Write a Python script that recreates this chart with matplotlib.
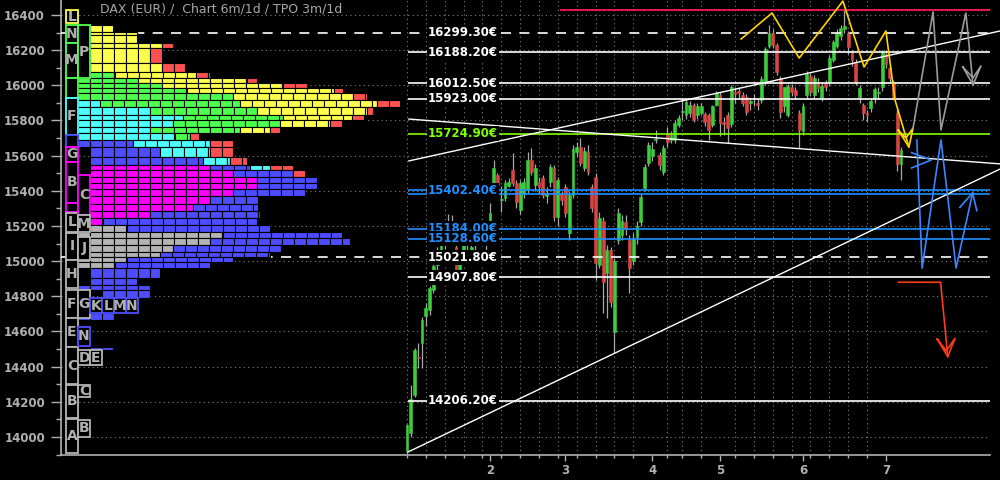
import numpy as np
import matplotlib.pyplot as plt
from matplotlib.ticker import FixedLocator, NullFormatter

# daily candles, trading-day index 0 (2 Jan) .. 131 (7 Jul)
opens = [13920, 14025, 14239, 14455, 14534, 14688, 14722, 14836, 14980, 15040,
         15090, 15140, 15200, 15080, 14940, 15060, 15110, 15060, 15100, 15120,
         15160, 15090,
         15140, 15444, 15490, 15350, 15359, 15430, 15518, 15444, 15290, 15380,
         15404, 15575, 15433, 15450, 15473, 15370, 15450, 15530, 15250, 15380,
         15421, 15160, 15376, 15620, 15649, 15530, 15620, 15421, 15478, 14980,
         15230, 14933, 15063, 14597, 15120, 15150, 15220, 15120, 15000, 15140,
         15223, 15416, 15558,
         15600, 15690, 15603, 15507, 15729, 15690, 15689, 15774, 15848, 15831,
         15840, 15888, 15830, 15843, 15837, 15831, 15774, 15888,
         15945, 15790, 15831, 15780, 15960, 15965, 15945, 15934, 15900, 15920,
         15900, 15916, 16013, 16224, 16298, 16229, 16041, 15880, 15831, 15990,
         15975, 15843,
         15740, 15945, 16052, 15945, 16013, 15930, 16013, 16019, 16144, 16224,
         16280, 16320, 16298, 16184, 16133, 15934, 15888, 15840, 15871, 15928,
         15955, 15990,
         16178, 16098, 16013, 15843, 15553]
highs = [14075, 14296, 14506, 14535, 14682, 14760, 14860, 14990, 15080, 15100,
         15150, 15270, 15260, 15110, 15060, 15140, 15150, 15100, 15160, 15180,
         15190, 15150,
         15330, 15575, 15500, 15430, 15460, 15470, 15615, 15460, 15460, 15470,
         15620, 15643, 15550, 15480, 15490, 15420, 15555, 15545, 15480, 15400,
         15440, 15400, 15660, 15680, 15700, 15650, 15660, 15440, 15500, 15280,
         15250, 15090, 15080, 15020, 15300, 15260, 15260, 15150, 15160, 15230,
         15380, 15550, 15680,
         15680, 15746, 15620, 15660, 15760, 15740, 15800, 15830, 15916, 15920,
         15910, 15900, 15900, 15900, 15850, 15840, 15890, 15970,
         15960, 15820, 15850, 16000, 15990, 15990, 15960, 15950, 15930, 15950,
         15930, 16050, 16215, 16343, 16320, 16240, 16050, 15990, 16010, 16010,
         15990, 15860,
         15900, 16080, 16070, 16060, 16040, 16020, 16030, 16170, 16260, 16320,
         16340, 16428, 16310, 16200, 16150, 16000, 15900, 15860, 15930, 15990,
         15990, 16200,
         16200, 16110, 16030, 15870, 15650]
lows = [13905, 14000, 14228, 14392, 14392, 14630, 14694, 14820, 14950, 14990,
        15070, 15110, 15140, 14900, 14930, 15040, 15050, 14990, 15060, 15090,
        15100, 15050,
        15100, 15421, 15400, 15280, 15340, 15420, 15430, 15300, 15270, 15360,
        15390, 15490, 15400, 15380, 15360, 15330, 15420, 15230, 15200, 15320,
        15250, 15120, 15360, 15600, 15540, 15510, 15490, 15280, 14890, 14960,
        14705, 14677, 14740, 14478, 15100, 15120, 15150, 14819, 14980, 15100,
        15200, 15400, 15540,
        15570, 15672, 15520, 15490, 15650, 15670, 15670, 15760, 15803, 15810,
        15820, 15790, 15810, 15830, 15770, 15689, 15760, 15880,
        15710, 15720, 15672, 15760, 15900, 15920, 15880, 15830, 15860, 15880,
        15860, 15900, 16000, 16210, 16210, 16060, 15814, 15850, 15820, 15940,
        15920, 15644,
        15720, 15930, 15940, 15930, 15960, 15910, 15970, 16000, 16130, 16210,
        16260, 16300, 16180, 16110, 16000, 15900, 15800, 15790, 15850, 15900,
        15920, 15970,
        16100, 16020, 15920, 15510, 15462]
closes = [14068, 14216, 14495, 14450, 14665, 14733, 14847, 14975, 15058, 15087,
          15134, 15187, 15181, 14920, 15033, 15103, 15094, 15081, 15132, 15150,
          15126, 15128,
          15274, 15530, 15433, 15352, 15444, 15450, 15444, 15336, 15444, 15450,
          15575, 15507, 15530, 15420, 15376, 15385, 15535, 15250, 15461, 15350,
          15274, 15376, 15638, 15649, 15558, 15625, 15507, 15302, 14990, 15245,
          14880, 15063, 14768, 15001, 15274, 15230, 15180, 14960, 15128, 15200,
          15365, 15535, 15660,
          15640, 15696, 15547, 15644, 15678, 15720, 15786, 15814, 15852, 15905,
          15890, 15803, 15880, 15882, 15791, 15746, 15882, 15956,
          15786, 15780, 15757, 15990, 15950, 15955, 15900, 15848, 15910, 15923,
          15890, 16036, 16207, 16298, 16229, 16076, 15848, 15990, 15996, 15960,
          15945, 15746,
          15882, 16064, 15960, 16041, 15985, 15996, 15990, 16155, 16246, 16298,
          16326, 16337, 16218, 16144, 16019, 15985, 15843, 15830, 15911, 15979,
          15958, 16190,
          16121, 16041, 15934, 15553, 15632]

month_idx = [22, 42, 65, 83, 105, 127]
month_lbl = ['2', '3', '4', '5', '6', '7']
monday_idx = [0, 5, 10, 15, 20, 25, 30, 35, 40, 45, 50, 55, 60, 65, 69, 73, 78,
              83, 87, 92, 97, 102, 107, 112, 117, 122, 127]

levels = [16299.3, 16188.2, 16012.5, 15923.0, 15724.9, 15402.4, 15184.0,
          15128.6, 15021.8, 14907.8, 14206.2]
level_kind = ['dash', 'white', 'white', 'white', 'green', 'blue', 'blue',
              'blue', 'dash', 'white', 'white']
second_blue = 15383
ath = 16428

# TPO profile bands: top, bottom, first column, (period colour, cells)
band_top = [16345, 16305, 16285, 16240, 16210, 16125, 16075, 16040, 16015, 15985,
            15955, 15915, 15875, 15830, 15805, 15760, 15730, 15690, 15650, 15590,
            15545, 15520, 15480, 15445, 15410, 15370, 15325, 15285, 15245, 15205,
            15165, 15130, 15090, 15050, 15025, 14995, 14960, 14905, 14865, 14835,
            14705, 14512]
band_bot = [16305, 16285, 16240, 16210, 16125, 16075, 16040, 16015, 15985, 15955,
            15915, 15875, 15830, 15805, 15760, 15730, 15690, 15650, 15590, 15545,
            15520, 15480, 15445, 15410, 15370, 15325, 15285, 15245, 15205, 15165,
            15130, 15090, 15050, 15025, 14995, 14960, 14905, 14865, 14835, 14790,
            14665, 14495]
band_start = [1, 1, 1, 1, 1, 1, 1, 0, 0, 1,
              1, 1, 1, 1, 1, 1, 1, 1, 2, 2,
              2, 2, 2, 2, 2, 2, 2, 2, 2, 1,
              1, 1, 1, 1, 1, 1, 2, 2, 1, 3,
              1, 2]
band_segs = [
    [('Y', 2.9)],
    [('Y', 4.9)],
    [('G', 1), ('Y', 3.9)],
    [('G', 1), ('Y', 6), ('R', 0.9)],
    [('G', 1), ('Y', 5), ('R', 1)],
    [('G', 1), ('Y', 6), ('R', 1.9)],
    [('G', 3.1), ('Y', 6.7), ('R', 1.2)],
    [('G', 6), ('Y', 9.1), ('R', 0.8)],
    [('G', 8), ('Y', 10.1), ('R', 2)],
    [('G', 9.1), ('Y', 12.2), ('R', 0.8)],
    [('G', 12.9), ('Y', 10), ('R', 1.2)],
    [('C', 1.8), ('G', 11.7), ('Y', 11.4), ('R', 1.9)],
    [('C', 6), ('G', 8.9), ('Y', 9.2), ('R', 0.5)],
    [('C', 8.75), ('G', 8.3), ('Y', 5.8), ('R', 1)],
    [('C', 7.9), ('G', 8.9), ('Y', 4.2), ('R', 1)],
    [('C', 6), ('G', 7.5), ('Y', 2.5), ('R', 0.8)],
    [('C', 8.1), ('G', 1.25), ('R', 0.7)],
    [('B', 4.6), ('C', 6.4), ('R', 1.9)],
    [('B', 5.8), ('C', 4.2), ('R', 1.9)],
    [('B', 9.4), ('C', 2.25), ('R', 1.4)],
    [('M', 10), ('B', 3.3), ('C', 1.7), ('R', 1.9)],
    [('M', 11.9), ('B', 5), ('R', 1)],
    [('M', 13.9), ('B', 5)],
    [('M', 13.9), ('B', 5)],
    [('M', 11.9), ('B', 6)],
    [('M', 10), ('B', 4)],
    [('M', 8.6), ('B', 5.4)],
    [('M', 5), ('B', 9.2)],
    [('M', 1.1), ('B', 12.8)],
    [('A', 4.1), ('B', 11.9)],
    [('A', 12.1), ('B', 9.9)],
    [('A', 11), ('B', 11.7)],
    [('A', 7.9), ('B', 9.1)],
    [('A', 6.8), ('B', 9.2)],
    [('A', 4.1), ('B', 8.8)],
    [('A', 3.1), ('B', 7.9)],
    [('B', 5.8)],
    [('B', 3.9)],
    [('B', 6)],
    [('B', 4)],
    [('B', 3.1)],
    [('B', 1.9)],
]

# lettered TPO boxes: column, low, high, letter, period colour
box_col = [0, 0, 0, 0, 0, 0, 0, 0, 0, 0, 0, 0, 0, 0, 0, 0, 0,
           1, 1, 1, 1, 1, 1, 1, 1, 1, 2, 3, 4, 5, 2]
box_lo = [16354, 16241, 16041, 15930, 15717, 15650, 15564, 15331, 15280, 15166,
          15007, 14847, 14677, 14512, 14301, 14108, 13909,
          16041, 15265, 15166, 15007, 14677, 14518, 14409, 14227, 14000,
          14705, 14705, 14705, 14705, 14409]
box_hi = [16428, 16343, 16241, 16041, 15930, 15717, 15650, 15564, 15331, 15274,
          15160, 15007, 14836, 14677, 14512, 14296, 14102,
          16343, 15490, 15262, 15137, 14836, 14626, 14495, 14296, 14097,
          14790, 14790, 14790, 14790, 14495]
box_txt = ['L', 'N', 'M', '', 'F', '', 'G', 'B', '', 'L', 'I', 'H', 'F', 'E',
           'C', 'B', 'A', 'P', 'C', 'M', 'J', 'G', 'N', 'D', 'C', 'B',
           'K', 'L', 'M', 'N', 'E']
box_key = ['Y', 'G', 'G', 'G', 'C', 'B', 'M', 'M', 'M', 'A', 'A', 'A', 'A', 'A',
           'A', 'A', 'A', 'G', 'M', 'A', 'A', 'A', 'B', 'A', 'A', 'A',
           'B', 'B', 'B', 'B', 'A']

# trend lines and hand-drawn scenarios (day index, price)
trend_up_low = [(0.3, 13915), (157.3, 15524)]
trend_up_high = [(0.5, 15570), (157.3, 16309)]
trend_down = [(0.5, 15808), (157.3, 15553)]
yellow_path = [(88.6, 16263), (96.8, 16411), (104.0, 16155), (115.6, 16479),
               (121.2, 16104), (127.0, 16309), (129.4, 15917), (133.1, 15649)]
yellow_head = [(130.2, 15746), (133.1, 15649), (134.2, 15757), (132.3, 15700), (130.2, 15746)]
gray_path = [(134.2, 15757), (139.5, 16417), (141.6, 15746), (148.2, 16411), (150.1, 16002)]
gray_head = [(147.4, 16104), (150.1, 16002), (152.2, 16110), (150.1, 16042), (147.4, 16104)]
blue_path = [(135.2, 15689), (136.6, 14961), (141.6, 15689), (145.6, 14961), (150.0, 15388)]
blue_head1 = [(133.8, 15617), (139.0, 15575), (133.8, 15530)]
blue_head2 = [(146.6, 15306), (150.0, 15388), (151.1, 15287)]
red_path = [(130.3, 14880), (141.5, 14880), (143.4, 14457)]
red_head = [(140.6, 14557), (143.4, 14457), (145.3, 14561), (143.0, 14490), (140.6, 14557)]

tpo_colors = {'Y': '#ffff4d', 'G': '#4dff4d', 'C': '#4dffff', 'B': '#4d4dff',
              'M': '#ff00ff', 'A': '#b4b4b4', 'R': '#ff5050'}
fg = '#b0b0b0'

fig = plt.figure(figsize=(10, 4.8), dpi=100, facecolor='black')
ax = fig.add_axes([0.061, 0.0521, 0.929, 0.9479])
ax.set_facecolor('black')
ax.set_xlim(-91.75, 154.6)
ax.set_ylim(13897.6, 16485)

# grid and axes styling
ax.yaxis.set_major_locator(FixedLocator(np.arange(14000, 16401, 200)))
ax.yaxis.set_minor_locator(FixedLocator(np.arange(13900, 16450, 100)))
ax.xaxis.set_major_locator(FixedLocator(month_idx))
ax.xaxis.set_minor_locator(FixedLocator(monday_idx))
ax.set_xticklabels(month_lbl)
ax.xaxis.set_minor_formatter(NullFormatter())
ax.grid(axis='y', which='major', color='#808080', linestyle=(0, (1, 3)), lw=0.8)
ax.grid(axis='x', which='minor', color='#808080', linestyle=(0, (1, 3)), lw=0.8)
ax.tick_params(axis='y', which='major', length=7.5, width=1, colors=fg, pad=4)
ax.tick_params(axis='y', which='minor', length=3.5, width=1, colors=fg)
ax.tick_params(axis='x', which='major', length=4.5, width=1, colors=fg, pad=2)
ax.tick_params(axis='x', which='minor', length=2.2, width=1, colors=fg)
for lbl in ax.get_xticklabels() + ax.get_yticklabels():
    lbl.set_fontsize(8.5)
    lbl.set_fontweight('bold')
for s in ['top', 'right']:
    ax.spines[s].set_visible(False)
for s in ['left', 'bottom']:
    ax.spines[s].set_color(fg)
    ax.spines[s].set_linewidth(1.2)

# TPO profile on its own column scale
ax2 = ax.twiny()
ax2.set_xlim((61 - 66) / 12, (990 - 66) / 12)
ax2.axis('off')
for top, bot, start, segs in zip(band_top, band_bot, band_start, band_segs):
    x = start
    for key, n in segs:
        full = int(n)
        widths = [1] * full + ([n - full] if n - full > 0.05 else [])
        lefts = x + np.arange(len(widths))
        ax2.barh(bot, widths, left=lefts, height=top - bot, align='edge',
                 color=tpo_colors[key], edgecolor='black', linewidth=0.8, zorder=2)
        x += n
for c, lo, hi, t, key in zip(box_col, box_lo, box_hi, box_txt, box_key):
    ax2.bar(c + 0.04, hi - lo, bottom=lo, width=0.92, align='edge',
            color='black', edgecolor=tpo_colors[key], linewidth=1.3, zorder=3)
    if t:
        ax2.text(c + 0.5, (lo + hi) / 2, t, color=fg, fontsize=10,
                 fontweight='bold', ha='center', va='center', zorder=4)

# candles
idx = np.arange(len(opens))
o = np.array(opens)
c = np.array(closes)
up = c >= o
ax.vlines(idx, lows, highs, color='#a8a8a8', lw=0.9, zorder=3)
body = np.maximum(np.abs(c - o), 6)
ax.bar(idx[up], body[up], bottom=np.minimum(o, c)[up], width=0.75,
       color='#3ccc3c', edgecolor='#3ccc3c', linewidth=0.4, zorder=4)
ax.bar(idx[~up], body[~up], bottom=np.minimum(o, c)[~up], width=0.75,
       color='#d94444', edgecolor='#d94444', linewidth=0.4, zorder=4)

# levels
kind_color = {'dash': 'white', 'white': 'white', 'green': '#80ff00', 'blue': '#1e90ff'}
for v, k in zip(levels, level_kind):
    col = kind_color[k]
    if k == 'dash':
        ax.axhline(v, color=col, lw=1.2, linestyle=(0, (6, 5)), zorder=5)
    else:
        ax.hlines(v, 0.3, 154.6, color=col, lw=1.2, zorder=5)
    ax.text(5.6, v, f'{v:.2f}€', color=col, fontsize=8.5, fontweight='bold',
            ha='left', va='center', zorder=8,
            bbox=dict(facecolor='black', edgecolor='none', pad=0.6))
ax.hlines(second_blue, 0.3, 154.6, color='#1e90ff', lw=1.2, zorder=5)
ax.hlines(ath, 40.6, 154.6, color='#ff1a50', lw=1.3, zorder=5)

# trend lines
for line in [trend_up_low, trend_up_high, trend_down]:
    xs, ys = zip(*line)
    ax.plot(xs, ys, color='white', lw=1.0, zorder=6, clip_on=False)

# hand-drawn scenarios
for path, col in [(yellow_path, '#ffd400'), (yellow_head, '#ffd400'),
                  (gray_path, '#9a9a9a'), (gray_head, '#9a9a9a'),
                  (blue_path, '#3a86ff'), (blue_head1, '#3a86ff'), (blue_head2, '#3a86ff'),
                  (red_path, '#ff3a1a'), (red_head, '#ff3a1a')]:
    xs, ys = zip(*path)
    ax.plot(xs, ys, color=col, lw=1.2, zorder=7, clip_on=False)

fig.text(0.1, 1 - 9 / 480, 'DAX (EUR) /  Chart 6m/1d / TPO 3m/1d', color='#a8a8a8',
         fontsize=9, ha='left', va='center')

fig.savefig('out.png', dpi=100, facecolor='black')
